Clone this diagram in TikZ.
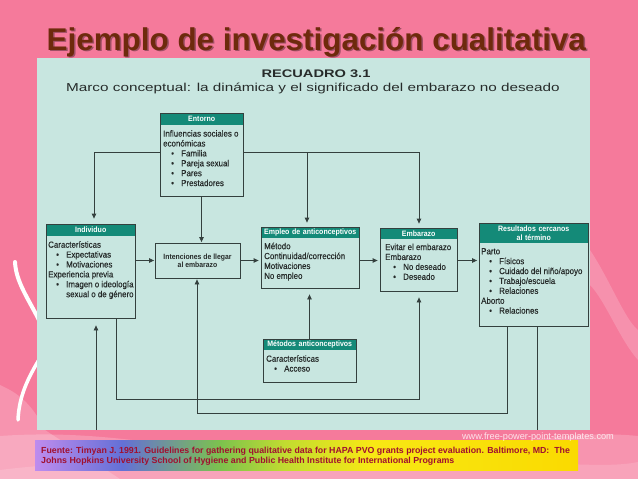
\documentclass[tikz,border=0pt]{standalone}
\usepackage{fontspec}
\setmainfont{Liberation Sans}
\newfontfamily\condfont[FakeStretch=0.9]{Liberation Sans}
\newfontfamily\condmed[FakeStretch=0.9,FakeBold=0.35]{Liberation Sans}
\newfontfamily\widefont[FakeStretch=1.33]{Liberation Sans}
\usetikzlibrary{arrows.meta,fit,calc}
\definecolor{bgpink}{HTML}{F57A9B}
\definecolor{lightpink}{HTML}{F9A6BE}
\definecolor{titlebrown}{HTML}{6E2A0C}
\definecolor{panelmint}{HTML}{C8E6E0}
\definecolor{hdrteal}{HTML}{148A78}
\definecolor{lineg}{HTML}{34403E}
\definecolor{txtg}{HTML}{262B2A}
\definecolor{srcred}{HTML}{A01030}
\definecolor{rbA}{HTML}{BE8CEE}
\definecolor{rbB}{HTML}{6470D6}
\definecolor{rbC}{HTML}{7CC24E}
\definecolor{rbD}{HTML}{C2DC30}
\definecolor{rbE}{HTML}{F8E814}
\definecolor{rbF}{HTML}{FADA00}
\pgfdeclarehorizontalshading{rainbowband}{100bp}{color(0bp)=(rbA); color(25bp)=(rbA); color(33bp)=(rbB); color(42bp)=(rbC); color(48bp)=(rbD); color(56bp)=(rbE); color(75bp)=(rbF); color(100bp)=(rbF)}
\newcommand\itm{\hspace*{8pt}\makebox[10pt][l]{\textbullet}}
\newcommand\contind{\hspace*{18pt}}
\tikzset{
 hdrbox/.style={fill=hdrteal, text=white, font=\condfont\bfseries\fontsize{7.8}{8.6}\selectfont, inner sep=0pt, anchor=north west, align=center},
 bodytext/.style={text=txtg, font=\condmed\fontsize{8.8}{9.9}\selectfont, inner xsep=3pt, inner ysep=5pt, anchor=north west, align=left},
 boxframe/.style={draw=lineg, line width=0.8pt, inner sep=0pt},
 conn/.style={draw=lineg, line width=0.8pt},
 arr/.style={conn, -{Triangle[length=5pt,width=4.5pt]}},
}
\begin{document}
\begin{tikzpicture}[x=1pt,y=-1pt]
\useasboundingbox (0,0) rectangle (638,479);
% background
\fill[bgpink] (0,0) rectangle (638,479);
\fill[white, opacity=0.2] (0,385) .. controls (15,392) and (30,400) .. (45,430) -- (120,479) -- (0,479) -- cycle;
\fill[white, opacity=0.2] (0,436) .. controls (140,426) and (230,468) .. (380,458) .. controls (480,452) and (560,428) .. (638,436) -- (638,479) -- (0,479) -- cycle;
\fill[white, opacity=0.15] (0,470) .. controls (160,450) and (300,479) .. (450,466) .. controls (540,458) and (600,470) .. (638,462) -- (638,479) -- (0,479) -- cycle;
\fill[white, opacity=0.18] (590,250) .. controls (610,280) and (625,320) .. (638,330) -- (638,360) .. controls (620,340) and (605,300) .. (590,285) -- cycle;
\draw[white, line width=4pt, line cap=round] (15,262) .. controls (16,282) and (28,298) .. (40,322);
\draw[white, line width=3.5pt, line cap=round] (40,358) .. controls (28,378) and (19,396) .. (18,420);
% title
\node[font=\bfseries\fontsize{31.4}{36}\selectfont, text=black, opacity=0.35, anchor=base west, inner sep=0pt] (titleshadow) at (48,52) {Ejemplo de investigación cualitativa};
\node[font=\bfseries\fontsize{31.4}{36}\selectfont, text=titlebrown, anchor=base west, inner sep=0pt] (title) at (46.5,50.5) {Ejemplo de investigación cualitativa};
% panel
\fill[panelmint] (37,58) rectangle (590,430);
\node[font=\widefont\bfseries\fontsize{11}{12}\selectfont, text=txtg, inner sep=0pt] (rec) at (316,74) {RECUADRO 3.1};
\node[font=\widefont\fontsize{11.5}{13}\selectfont, text=txtg, inner sep=0pt] (marco) at (313,88) {Marco conceptual: la dinámica y el significado del embarazo no deseado};
% Entorno
\node[hdrbox, text width=83pt, minimum height=12pt] (entorno-h) at (160,113) {Entorno};
\node[bodytext] (entorno-b) at (160,125) {Influencias sociales o\\económicas\\\itm Familia\\\itm Pareja sexual\\\itm Pares\\\itm Prestadores};
\node[boxframe, fit={(160,113) (243,196)}] (entorno) {};
% Individuo
\node[hdrbox, text width=89pt, minimum height=12pt] (indiv-h) at (46,224) {Individuo};
\node[bodytext, inner xsep=2pt] (indiv-b) at (46,236) {Características\\\itm Expectativas\\\itm Motivaciones\\Experiencia previa\\\itm Imagen o ideología\\\contind sexual o de género};
\node[boxframe, fit={(46,224) (135,318)}] (indiv) {};
% Intenciones
\node[boxframe, fit={(155,243) (240,278)}] (inten) {};
\node[font=\condfont\bfseries\fontsize{7.6}{8.2}\selectfont, text=txtg, align=center, inner sep=0pt] (inten-t) at (inten.center) {Intenciones de llegar\\al embarazo};
% Empleo
\node[hdrbox, text width=98pt, minimum height=10.5pt] (empleo-h) at (261,227) {Empleo de anticonceptivos};
\node[bodytext] (empleo-b) at (261,237.5) {Método\\Continuidad/corrección\\Motivaciones\\No empleo};
\node[boxframe, fit={(261,227) (359,288)}] (empleo) {};
% Embarazo
\node[hdrbox, text width=77pt, minimum height=10.5pt] (emb-h) at (380,228) {Embarazo};
\node[bodytext, inner xsep=5pt] (emb-b) at (380,238.5) {Evitar el embarazo\\Embarazo\\\itm No deseado\\\itm Deseado};
\node[boxframe, fit={(380,228) (457,291)}] (emb) {};
% Resultados
\node[hdrbox, text width=109pt, minimum height=20pt] (res-h) at (479,223) {Resultados cercanos\\al término};
\node[bodytext, inner xsep=2pt] (res-b) at (479,243) {Parto\\\itm Físicos\\\itm Cuidado del niño/apoyo\\\itm Trabajo/escuela\\\itm Relaciones\\Aborto\\\itm Relaciones};
\node[boxframe, fit={(479,223) (588,326)}] (res) {};
% Metodos
\node[hdrbox, text width=93pt, minimum height=11pt] (met-h) at (263,339) {Métodos anticonceptivos};
\node[bodytext] (met-b) at (263,350) {Características\\\itm Acceso};
\node[boxframe, fit={(263,339) (356,382)}] (met) {};
% connectors from Entorno
\coordinate (dropA) at (94,152);
\coordinate (dropB) at (307,152);
\coordinate (dropC) at (419,152);
\draw[arr, shorten >=5pt] (entorno.west |- dropA) -- (dropA) -- (dropA |- indiv.north);
\draw[arr, shorten >=4pt] (entorno.east |- dropC) -- (dropC) -- (dropC |- emb.north);
\draw[arr, shorten >=4pt] (dropB) -- (dropB |- empleo.north);
\draw[arr, shorten >=0.5pt] (entorno.south) -- (entorno.south |- inten.north);
% chain
\draw[arr, shorten >=0.5pt] (indiv.east |- inten.west) -- (inten.west);
\draw[arr, shorten >=2pt] (inten.east) -- (inten.east -| empleo.west);
\draw[arr, shorten >=2pt] (empleo.east |- inten.east) -- (emb.west |- inten.east);
\draw[arr, shorten >=1.5pt] (emb.east |- inten.east) -- (res.west |- inten.east);
% Metodos to Empleo
\draw[arr, shorten >=6pt] (met.north) -- (met.north |- empleo.south);
% feedback lines
\coordinate (fbA) at (116,399);
\coordinate (fbB) at (419,399);
\draw[arr, shorten >=6pt] (indiv.south -| fbA) -- (fbA) -- (fbB) -- (fbB |- emb.south);
\coordinate (fbC) at (507,413);
\coordinate (fbD) at (197,413);
\draw[arr, shorten >=1pt] (res.south -| fbC) -- (fbC) -- (fbD) -- (fbD |- inten.south);
\coordinate (outR) at (537,430);
\draw[conn] (res.south -| outR) -- (outR);
\coordinate (outL) at (96,430);
\draw[arr, shorten >=7pt] (outL) -- (outL |- indiv.south);
% source band
\node[shade, shading=rainbowband, minimum width=543pt, minimum height=30pt, anchor=north west, inner sep=0pt] (band) at (35,440) {};
\node[font=\bfseries\fontsize{8.8}{9.5}\selectfont, text=srcred, anchor=base west, align=left, inner sep=0pt] (src) at (41,463) {Fuente: Timyan J. 1991. Guidelines for gathering qualitative data for HAPA PVO grants project evaluation. Baltimore, MD:\ \ The\\Johns Hopkins University School of Hygiene and Public Health Institute for International Programs};
\node[font=\fontsize{9.2}{10}\selectfont, text=white, opacity=0.8, inner sep=0pt] (www) at (538,437) {www.free-power-point-templates.com};
\end{tikzpicture}
\end{document}
